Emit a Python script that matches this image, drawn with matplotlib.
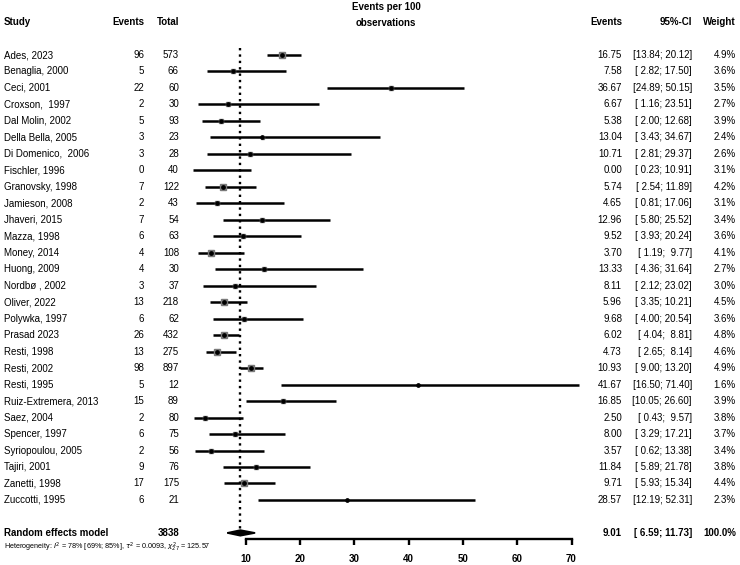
import matplotlib
matplotlib.use("Agg")
import matplotlib.pyplot as plt
import matplotlib.transforms as mtransforms

plt.rcParams['font.family'] = ['Liberation Sans', 'DejaVu Sans']

# data
studies = ["Ades, 2023", "Benaglia, 2000", "Ceci, 2001", "Croxson,  1997", "Dal Molin, 2002",
           "Della Bella, 2005", "Di Domenico,  2006", "Fischler, 1996", "Granovsky, 1998",
           "Jamieson, 2008", "Jhaveri, 2015", "Mazza, 1998", "Money, 2014", "Huong, 2009",
           "Nordbø , 2002", "Oliver, 2022", "Polywka, 1997", "Prasad 2023", "Resti, 1998",
           "Resti, 2002", "Resti, 1995", "Ruiz-Extremera, 2013", "Saez, 2004", "Spencer, 1997",
           "Syriopoulou, 2005", "Tajiri, 2001", "Zanetti, 1998", "Zuccotti, 1995"]
events = [96, 5, 22, 2, 5, 3, 3, 0, 7, 2, 7, 6, 4, 4, 3, 13, 6, 26, 13, 98, 5, 15, 2, 6, 2, 9, 17, 6]
totals = [573, 66, 60, 30, 93, 23, 28, 40, 122, 43, 54, 63, 108, 30, 37, 218, 62, 432, 275,
          897, 12, 89, 80, 75, 56, 76, 175, 21]
rate = [16.75, 7.58, 36.67, 6.67, 5.38, 13.04, 10.71, 0.00, 5.74, 4.65, 12.96, 9.52, 3.70,
        13.33, 8.11, 5.96, 9.68, 6.02, 4.73, 10.93, 41.67, 16.85, 2.50, 8.00, 3.57, 11.84,
        9.71, 28.57]
ci_lo = [13.84, 2.82, 24.89, 1.16, 2.00, 3.43, 2.81, 0.23, 2.54, 0.81, 5.80, 3.93, 1.19,
         4.36, 2.12, 3.35, 4.00, 4.04, 2.65, 9.00, 16.50, 10.05, 0.43, 3.29, 0.62, 5.89,
         5.93, 12.19]
ci_hi = [20.12, 17.50, 50.15, 23.51, 12.68, 34.67, 29.37, 10.91, 11.89, 17.06, 25.52, 20.24,
         9.77, 31.64, 23.02, 10.21, 20.54, 8.81, 8.14, 13.20, 71.40, 26.60, 9.57, 17.21,
         13.38, 21.78, 15.34, 52.31]
weight = [4.9, 3.6, 3.5, 2.7, 3.9, 2.4, 2.6, 3.1, 4.2, 3.1, 3.4, 3.6, 4.1, 2.7, 3.0, 4.5,
          3.6, 4.8, 4.6, 4.9, 1.6, 3.9, 3.8, 3.7, 3.4, 3.8, 4.4, 2.3]

re_total = 3838
re_rate, re_lo, re_hi = 9.01, 6.59, 11.73
xticks = [10, 20, 30, 40, 50, 60, 70]

W, H = 740, 565
fig = plt.figure(figsize=(W / 100, H / 100), dpi=100)

# plot panel: value 0 at x=191.4px, 5.43 px per unit; axis line at y=539px
x0, ppu = 191.4, 5.43
xmax = 73
ax = fig.add_axes([x0 / W, (H - 539) / H, xmax * ppu / W, 539 / H])
row0, rowh = 55, 16.48
ax.set_xlim(0, xmax)
ax.set_ylim((539 - row0) / rowh, -row0 / rowh)

n = len(studies)
rows = list(range(n))
re_row = n + 1

for i in rows:
    ax.plot([ci_lo[i], ci_hi[i]], [i, i], color='black', lw=1.8, solid_capstyle='butt')
    if rate[i] >= ci_lo[i]:
        ax.plot(rate[i], i, marker='s', ms=weight[i] * 0.9, color='#7a7a7a', mec='#7a7a7a')
        ax.plot(rate[i], i, marker='o', ms=2.4, color='black')

ax.plot([re_rate, re_rate], [-0.42, re_row - 0.15], color='black', lw=1.7,
        linestyle=(0, (1, 1.7)))
ax.fill([re_lo, re_rate, re_hi, re_rate], [re_row, re_row - 0.17, re_row, re_row + 0.17],
        color='black', lw=1.2)

for s in ['top', 'right', 'left']:
    ax.spines[s].set_visible(False)
ax.spines['bottom'].set_bounds(xticks[0], xticks[-1])
ax.spines['bottom'].set_linewidth(1.7)
ax.set_yticks([])
ax.set_xticks(xticks)
ax.tick_params(axis='x', direction='out', length=4.5, width=1.7, pad=6, labelsize=7)
for lab in ax.get_xticklabels():
    lab.set_fontweight('bold')

tr = mtransforms.blended_transform_factory(fig.transFigure, ax.transData)
fs = 7


def put(xpx, row, s, ha='left', bold=False, size=fs):
    ax.text(xpx / W, row, s, transform=tr, ha=ha, va='center', fontsize=size,
            fontweight='bold' if bold else 'normal', clip_on=False)


hrow = -2.0
put(4, hrow, "Study", bold=True)
put(144, hrow, "Events", ha='right', bold=True)
put(179, hrow, "Total", ha='right', bold=True)
put(386, -2.91, "Events per 100", ha='center', bold=True)
put(386, -1.94, "observations", ha='center', bold=True)
put(622, hrow, "Events", ha='right', bold=True)
put(692, hrow, "95%-CI", ha='right', bold=True)
put(736, hrow, "Weight", ha='right', bold=True)

for i in rows:
    put(4, i, studies[i])
    put(144, i, str(events[i]), ha='right')
    put(179, i, str(totals[i]), ha='right')
    put(622, i, f"{rate[i]:.2f}", ha='right')
    put(692, i, f"[{ci_lo[i]:5.2f}; {ci_hi[i]:5.2f}]", ha='right')
    put(736, i, f"{weight[i]:.1f}%", ha='right')

put(4, re_row, "Random effects model", bold=True)
put(179, re_row, str(re_total), ha='right', bold=True)
put(622, re_row, f"{re_rate:.2f}", ha='right', bold=True)
put(692, re_row, f"[{re_lo:5.2f}; {re_hi:5.2f}]", ha='right', bold=True)
put(736, re_row, "100.0%", ha='right', bold=True)
put(4, re_row + 0.9,
    r"Heterogeneity: $I^2$ = 78% [69%; 85%], $\tau^2$ = 0.0093, $\chi^2_{27}$ = 125.57",
    size=5.2)

fig.savefig("out.png", dpi=100)
